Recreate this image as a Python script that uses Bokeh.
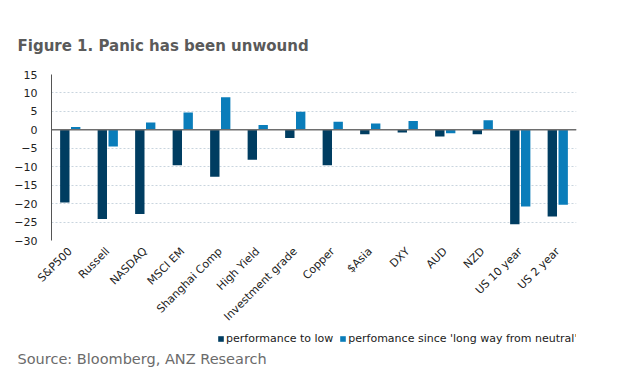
from math import pi
from bokeh.plotting import figure
from bokeh.layouts import column
from bokeh.models import (ColumnDataSource, FactorRange, Range1d, Span, Legend, LegendItem,
                          Title, FixedTicker)
from bokeh.transform import dodge
from bokeh.embed import file_html
from bokeh.resources import INLINE

categories = ["S&P500", "Russell", "NASDAQ", "MSCI EM", "Shanghai Comp", "High Yield",
              "Investment grade", "Copper", "$Asia", "DXY", "AUD", "NZD", "US 10 year", "US 2 year"]
perf_to_low = [-19.7, -24.2, -22.8, -9.6, -12.7, -8.1, -2.2, -9.6, -1.2, -0.7, -1.8, -1.2, -25.6, -23.5]
perf_since = [0.8, -4.5, 2.0, 4.7, 8.8, 1.3, 4.9, 2.2, 1.7, 2.4, -0.9, 2.6, -20.8, -20.3]
y_ticks = [-30, -25, -20, -15, -10, -5, 0, 5, 10, 15]
series_names = ["performance to low", "perfomance since 'long way from neutral'"]

DARK = "#003d61"
LIGHT = "#0a7dba"
FONT = "DejaVu Sans"

src = ColumnDataSource(dict(cat=categories, low=perf_to_low, since=perf_since))

p = figure(x_range=FactorRange(*categories), y_range=Range1d(-30, 15),
           frame_width=525, frame_height=166, output_backend="svg", toolbar_location=None,
           min_border_left=51, min_border_right=25, min_border_top=74, min_border_bottom=82)
p.x_range.range_padding = 0
p.outline_line_color = None
p.background_fill_color = "white"

r1 = p.vbar(x=dodge("cat", -0.145, range=p.x_range), top="low", width=0.25, source=src,
            fill_color=DARK, line_color=None)
r2 = p.vbar(x=dodge("cat", 0.145, range=p.x_range), top="since", width=0.25, source=src,
            fill_color=LIGHT, line_color=None)

p.add_layout(Span(location=0, dimension="width", line_color="#6e6e6e", line_width=1.5))

p.yaxis.ticker = FixedTicker(ticks=y_ticks)
p.yaxis.major_label_text_font = FONT
p.yaxis.major_label_text_font_size = "11px"
p.yaxis.major_label_text_color = "#222222"
p.yaxis.axis_line_color = "#555555"
p.yaxis.major_tick_line_color = None
p.yaxis.minor_tick_line_color = None
p.yaxis.major_label_standoff = 8

p.xaxis.axis_line_color = None
p.xaxis.major_tick_line_color = None
p.xaxis.major_label_orientation = pi / 4
p.xaxis.major_label_text_font = FONT
p.xaxis.major_label_text_font_size = "11px"
p.xaxis.major_label_text_color = "#222222"
p.xaxis.major_label_standoff = 3

p.xgrid.grid_line_color = None
p.ygrid.ticker = FixedTicker(ticks=y_ticks)
p.ygrid.grid_line_color = "#c9d5de"
p.ygrid.grid_line_dash = "2 2"
p.ygrid.grid_line_width = 1.2

title = Title(text="Figure 1. Panic has been unwound", align="left", offset=-34,
              text_font=FONT, text_font_size="15px", text_font_style="bold",
              text_color="#5a5a5a", standoff=40)
p.add_layout(title, "above")

# footer figure: legend + source note
f = figure(width=601, height=58, x_range=Range1d(0, 1), y_range=Range1d(0, 1),
           output_backend="svg", toolbar_location=None,
           x_axis_location=None, y_axis_location=None,
           min_border_left=51, min_border_right=25, min_border_top=0, min_border_bottom=38)
f.outline_line_color = None
f.xgrid.grid_line_color = None
f.ygrid.grid_line_color = None
nan = float("nan")
key = ColumnDataSource(dict(x=[nan], top=[nan]))
lr1 = f.vbar(x="x", top="top", width=0.1, source=key, fill_color=DARK, line_color=None)
lr2 = f.vbar(x="x", top="top", width=0.1, source=key, fill_color=LIGHT, line_color=None)

legend = Legend(items=[LegendItem(label=series_names[0], renderers=[lr1]),
                       LegendItem(label=series_names[1], renderers=[lr2])],
                orientation="horizontal", location=(166, 5),
                label_text_font=FONT, label_text_font_size="11px", label_text_color="#1a1a1a",
                glyph_width=7, glyph_height=7, spacing=6, padding=0, margin=0,
                label_standoff=2, border_line_color=None, background_fill_alpha=0,
                label_height=10)
f.add_layout(legend, "center")

source_t = Title(text="Source: Bloomberg, ANZ Research", align="left", offset=-34,
                 text_font=FONT, text_font_size="14.5px", text_font_style="normal",
                 text_color="#6b6b6b", standoff=-3)
f.add_layout(source_t, "below")

layout = column(p, f, spacing=0)
open("out.html", "w").write(file_html(layout, INLINE))
